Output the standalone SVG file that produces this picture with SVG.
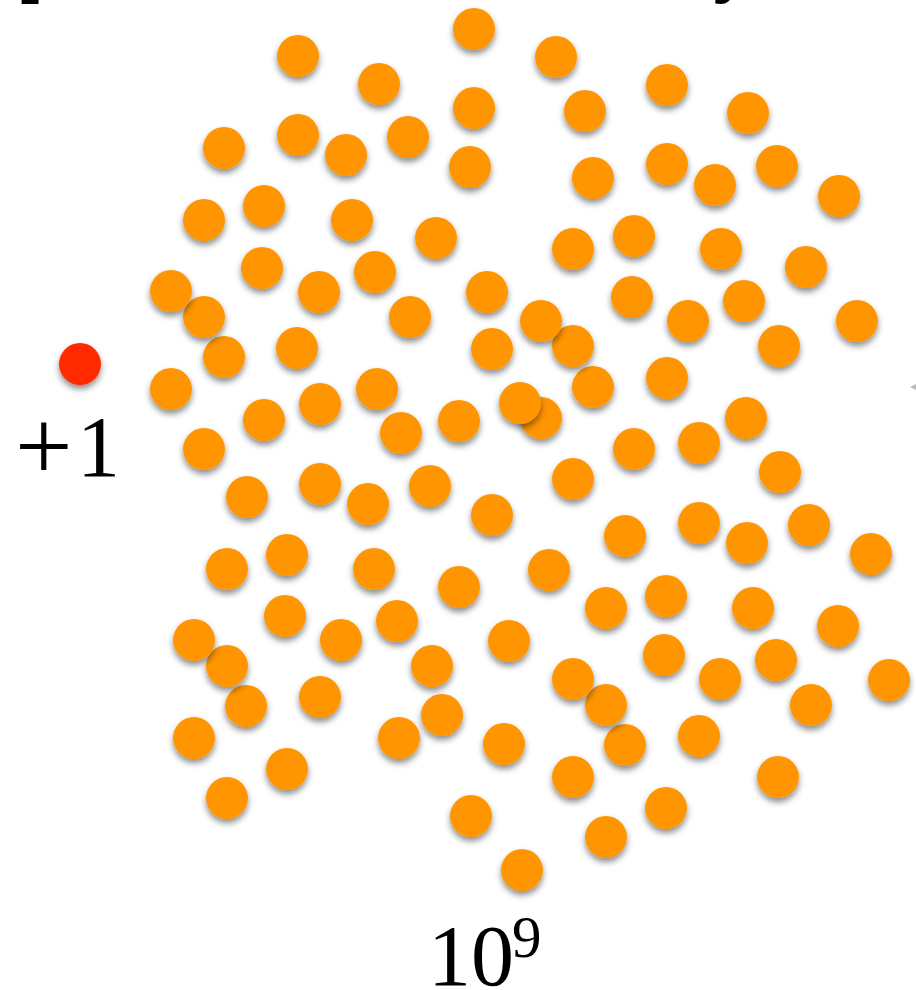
<svg xmlns="http://www.w3.org/2000/svg" width="916" height="990" viewBox="0 0 916 990">
<style>
.d{fill:#ff9500;filter:url(#sh)}
.r{fill:#ff2a00;filter:url(#sh)}
.t{font-family:"Liberation Serif","Times New Roman",serif;fill:#000}
.h{font-family:"Liberation Sans",Arial,sans-serif;font-weight:bold;fill:#000}
</style>
<defs>
<filter id="sh" x="-50%" y="-50%" width="200%" height="200%">
<feDropShadow dx="0" dy="4" stdDeviation="3" flood-color="#000" flood-opacity="0.45"/>
</filter>
</defs>
<rect width="916" height="990" fill="#fff"/>
<text class="h" x="18" y="-9" font-size="64">[</text>
<text class="h" x="712" y="-9" font-size="64">y</text>
<polygon points="910,387 916,384 916,390" fill="#bbb"/>
<g id="dots">
<circle class="d" cx="522" cy="870" r="21"/>
<circle class="d" cx="606" cy="837" r="21"/>
<circle class="d" cx="471" cy="816" r="21"/>
<circle class="d" cx="666" cy="808" r="21"/>
<circle class="d" cx="227" cy="798" r="21"/>
<circle class="d" cx="573" cy="777" r="21"/>
<circle class="d" cx="778" cy="777" r="21"/>
<circle class="d" cx="287" cy="769" r="21"/>
<circle class="d" cx="625" cy="745" r="21"/>
<circle class="d" cx="504" cy="744" r="21"/>
<circle class="d" cx="194" cy="738" r="21"/>
<circle class="d" cx="399" cy="738" r="21"/>
<circle class="d" cx="699" cy="736" r="21"/>
<circle class="d" cx="442" cy="715" r="21"/>
<circle class="d" cx="246" cy="706" r="21"/>
<circle class="d" cx="606" cy="705" r="21"/>
<circle class="d" cx="811" cy="705" r="21"/>
<circle class="d" cx="320" cy="697" r="21"/>
<circle class="d" cx="889" cy="680" r="21"/>
<circle class="d" cx="573" cy="679" r="21"/>
<circle class="d" cx="720" cy="679" r="21"/>
<circle class="d" cx="227" cy="666" r="21"/>
<circle class="d" cx="432" cy="666" r="21"/>
<circle class="d" cx="776" cy="660" r="21"/>
<circle class="d" cx="664" cy="655" r="21"/>
<circle class="d" cx="509" cy="641" r="21"/>
<circle class="d" cx="194" cy="640" r="21"/>
<circle class="d" cx="341" cy="640" r="21"/>
<circle class="d" cx="838" cy="626" r="21"/>
<circle class="d" cx="397" cy="621" r="21"/>
<circle class="d" cx="285" cy="616" r="21"/>
<circle class="d" cx="606" cy="608" r="21"/>
<circle class="d" cx="753" cy="608" r="21"/>
<circle class="d" cx="666" cy="596" r="21"/>
<circle class="d" cx="459" cy="587" r="21"/>
<circle class="d" cx="549" cy="570" r="21"/>
<circle class="d" cx="227" cy="569" r="21"/>
<circle class="d" cx="374" cy="569" r="21"/>
<circle class="d" cx="287" cy="555" r="21"/>
<circle class="d" cx="871" cy="554" r="21"/>
<circle class="d" cx="747" cy="543" r="21"/>
<circle class="d" cx="625" cy="536" r="21"/>
<circle class="d" cx="809" cy="525" r="21"/>
<circle class="d" cx="699" cy="523" r="21"/>
<circle class="d" cx="492" cy="515" r="21"/>
<circle class="d" cx="368" cy="504" r="21"/>
<circle class="d" cx="247" cy="497" r="21"/>
<circle class="d" cx="430" cy="486" r="21"/>
<circle class="d" cx="320" cy="484" r="21"/>
<circle class="d" cx="573" cy="479" r="21"/>
<circle class="d" cx="780" cy="472" r="21"/>
<circle class="d" cx="204" cy="449" r="21"/>
<circle class="d" cx="634" cy="449" r="21"/>
<circle class="d" cx="699" cy="443" r="21"/>
<circle class="d" cx="401" cy="433" r="21"/>
<circle class="d" cx="459" cy="421" r="21"/>
<circle class="d" cx="264" cy="420" r="21"/>
<circle class="d" cx="541" cy="418" r="21"/>
<circle class="d" cx="746" cy="418" r="21"/>
<circle class="d" cx="320" cy="404" r="21"/>
<circle class="d" cx="520" cy="403" r="21"/>
<circle class="d" cx="171" cy="389" r="21"/>
<circle class="d" cx="377" cy="389" r="21"/>
<circle class="d" cx="593" cy="387" r="21"/>
<circle class="d" cx="667" cy="378" r="21"/>
<circle class="d" cx="224" cy="357" r="21"/>
<circle class="d" cx="492" cy="349" r="21"/>
<circle class="d" cx="297" cy="348" r="21"/>
<circle class="d" cx="573" cy="346" r="21"/>
<circle class="d" cx="779" cy="346" r="21"/>
<circle class="d" cx="857" cy="321" r="21"/>
<circle class="d" cx="541" cy="321" r="21"/>
<circle class="d" cx="688" cy="321" r="21"/>
<circle class="d" cx="204" cy="317" r="21"/>
<circle class="d" cx="410" cy="317" r="21"/>
<circle class="d" cx="744" cy="301" r="21"/>
<circle class="d" cx="632" cy="297" r="21"/>
<circle class="d" cx="487" cy="292" r="21"/>
<circle class="d" cx="319" cy="292" r="21"/>
<circle class="d" cx="171" cy="291" r="21"/>
<circle class="d" cx="375" cy="272" r="21"/>
<circle class="d" cx="806" cy="267" r="21"/>
<circle class="d" cx="262" cy="268" r="21"/>
<circle class="d" cx="573" cy="249" r="21"/>
<circle class="d" cx="721" cy="249" r="21"/>
<circle class="d" cx="436" cy="238" r="21"/>
<circle class="d" cx="634" cy="236" r="21"/>
<circle class="d" cx="204" cy="220" r="21"/>
<circle class="d" cx="352" cy="220" r="21"/>
<circle class="d" cx="264" cy="206" r="21"/>
<circle class="d" cx="839" cy="196" r="21"/>
<circle class="d" cx="715" cy="185" r="21"/>
<circle class="d" cx="593" cy="178" r="21"/>
<circle class="d" cx="470" cy="167" r="21"/>
<circle class="d" cx="777" cy="166" r="21"/>
<circle class="d" cx="667" cy="164" r="21"/>
<circle class="d" cx="346" cy="155" r="21"/>
<circle class="d" cx="224" cy="148" r="21"/>
<circle class="d" cx="408" cy="137" r="21"/>
<circle class="d" cx="298" cy="135" r="21"/>
<circle class="d" cx="748" cy="113" r="21"/>
<circle class="d" cx="585" cy="111" r="21"/>
<circle class="d" cx="474" cy="108" r="21"/>
<circle class="d" cx="667" cy="85" r="21"/>
<circle class="d" cx="379" cy="84" r="21"/>
<circle class="d" cx="556" cy="57" r="21"/>
<circle class="d" cx="298" cy="56" r="21"/>
<circle class="d" cx="474" cy="29" r="21"/>
</g>
<g id="single">
<circle class="r" cx="80" cy="364" r="21"/>
<text class="t" x="15" y="480" font-size="102">+</text>
<text class="t" x="77" y="476" font-size="86">1</text>
</g>
<g id="count">
<text class="t" x="428" y="985" font-size="86">10</text>
<text class="t" x="512" y="957" font-size="59">9</text>
</g>
</svg>
